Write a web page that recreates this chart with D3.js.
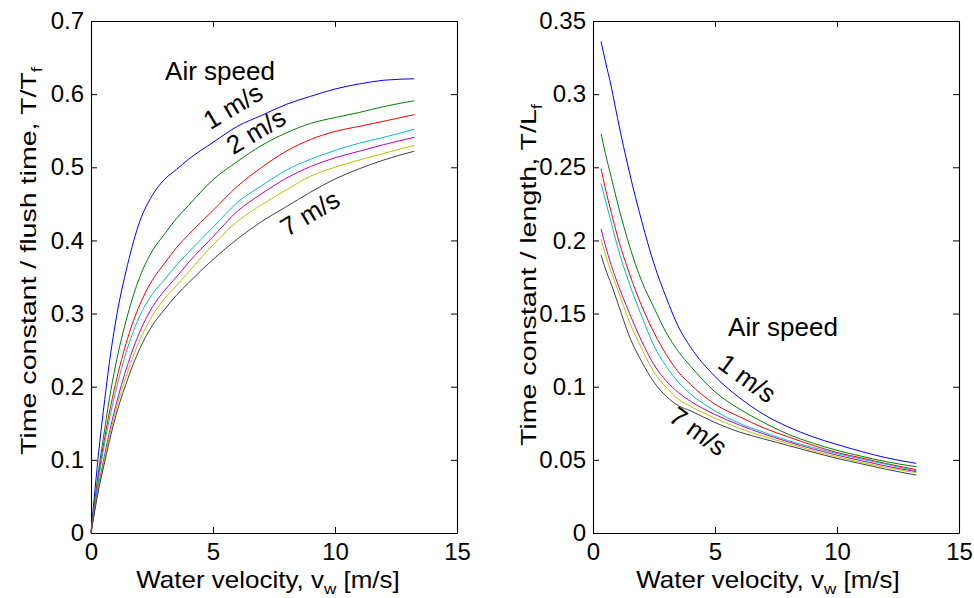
<!DOCTYPE html>
<html><head><meta charset="utf-8">
<script src="https://cdn.jsdelivr.net/npm/d3@7"></script>
<style>body{margin:0;background:#fff}svg{display:block}</style>
</head><body><svg id="c" width="974" height="598"></svg>
<script>
// ---------- data ----------
const airSpeeds = ["1 m/s","2 m/s","3 m/s","4 m/s","5 m/s","6 m/s","7 m/s"];
const lineColors = ["#0000ff","#008000","#ff0000","#00bfbf","#bf00bf","#bfbf00","#404040"];

const waterVelLeft  = [0, 0.33, 0.5, 0.75, 1, 1.5, 2, 2.5, 3, 3.5, 4, 5, 6, 7, 8, 9, 10, 11, 12, 13.25];
const waterVelRight = [0.33, 0.5, 0.75, 1, 1.5, 2, 2.5, 3, 3.5, 4, 5, 6, 7, 8, 9, 10, 11, 12, 13.25];

// T/Tf (left panel)
const ratioFlush1 = [0, 0.115, 0.165, 0.232, 0.287, 0.367, 0.426, 0.461, 0.483, 0.497, 0.511, 0.534, 0.556, 0.571, 0.586, 0.597, 0.607, 0.614, 0.619, 0.621];
const ratioFlush2 = [0, 0.090, 0.128, 0.183, 0.228, 0.298, 0.350, 0.385, 0.408, 0.430, 0.448, 0.483, 0.508, 0.530, 0.547, 0.560, 0.568, 0.575, 0.583, 0.591];
const ratioFlush3 = [0, 0.082, 0.118, 0.164, 0.203, 0.266, 0.312, 0.345, 0.368, 0.390, 0.408, 0.441, 0.474, 0.500, 0.522, 0.538, 0.549, 0.556, 0.563, 0.572];
const ratioFlush4 = [0, 0.078, 0.112, 0.155, 0.192, 0.253, 0.297, 0.326, 0.346, 0.366, 0.384, 0.418, 0.452, 0.475, 0.496, 0.511, 0.523, 0.533, 0.541, 0.552];
const ratioFlush5 = [0, 0.068, 0.097, 0.137, 0.172, 0.230, 0.275, 0.308, 0.331, 0.350, 0.370, 0.405, 0.440, 0.464, 0.485, 0.501, 0.513, 0.522, 0.531, 0.541];
const ratioFlush6 = [0, 0.065, 0.093, 0.131, 0.165, 0.220, 0.264, 0.296, 0.320, 0.338, 0.357, 0.394, 0.426, 0.449, 0.469, 0.488, 0.500, 0.510, 0.519, 0.530];
const ratioFlush7 = [0, 0.062, 0.088, 0.125, 0.158, 0.210, 0.252, 0.283, 0.305, 0.325, 0.342, 0.374, 0.402, 0.426, 0.446, 0.466, 0.484, 0.498, 0.510, 0.522];

// T/Lf (right panel)
const ratioLength1 = [0.336, 0.323, 0.305, 0.284, 0.246, 0.213, 0.184, 0.161, 0.141, 0.127, 0.107, 0.0925, 0.081, 0.0725, 0.0658, 0.0605, 0.0557, 0.0515, 0.0476];
const ratioLength2 = [0.273, 0.260, 0.243, 0.226, 0.196, 0.172, 0.154, 0.137, 0.124, 0.114, 0.0965, 0.0848, 0.0755, 0.0675, 0.0615, 0.0565, 0.0525, 0.0488, 0.0453];
const ratioLength3 = [0.249, 0.236, 0.219, 0.203, 0.177, 0.155, 0.137, 0.122, 0.110, 0.1015, 0.088, 0.0795, 0.0718, 0.0657, 0.0600, 0.0550, 0.0513, 0.0475, 0.0433];
const ratioLength4 = [0.239, 0.228, 0.212, 0.196, 0.170, 0.148, 0.128, 0.114, 0.103, 0.095, 0.0835, 0.075, 0.0688, 0.0632, 0.0585, 0.0543, 0.0505, 0.0470, 0.0425];
const ratioLength5 = [0.208, 0.197, 0.183, 0.171, 0.150, 0.131, 0.115, 0.104, 0.096, 0.090, 0.081, 0.0738, 0.0677, 0.0623, 0.0575, 0.0532, 0.0494, 0.0458, 0.0419];
const ratioLength6 = [0.201, 0.191, 0.178, 0.167, 0.144, 0.126, 0.110, 0.0995, 0.0915, 0.0865, 0.0785, 0.0715, 0.066, 0.0612, 0.0563, 0.0521, 0.0483, 0.0448, 0.0412];
const ratioLength7 = [0.190, 0.181, 0.170, 0.158, 0.134, 0.117, 0.103, 0.0935, 0.087, 0.0835, 0.0755, 0.069, 0.0643, 0.0598, 0.0553, 0.051, 0.0473, 0.0436, 0.0396];

const xTicks = [0, 5, 10, 15];
const yTicksLeft = [0, 0.1, 0.2, 0.3, 0.4, 0.5, 0.6, 0.7];
const yTickLabelsLeft = ["0","0.1","0.2","0.3","0.4","0.5","0.6","0.7"];
const yTicksRight = [0, 0.05, 0.1, 0.15, 0.2, 0.25, 0.3, 0.35];
const yTickLabelsRight = ["0","0.05","0.1","0.15","0.2","0.25","0.3","0.35"];

// ---------- drawing ----------
const FONT = "'Liberation Sans', Arial, Helvetica, sans-serif";
const svg = d3.select("#c");
svg.append("rect").attr("width",974).attr("height",598).attr("fill","#fff");

function panel(opts){
  const {left,right,top,bottom,yMax,yTicks,yLabels,xs,series} = opts;
  const x = d3.scaleLinear().domain([0,15]).range([left,right]);
  const y = d3.scaleLinear().domain([0,yMax]).range([bottom,top]);
  const g = svg.append("g");

  const styleAxis = sel => {
    sel.select(".domain").attr("stroke","#000").attr("stroke-width",1.1);
    sel.selectAll(".tick line").attr("stroke","#000").attr("stroke-width",1);
    sel.selectAll(".tick text").attr("fill","#000").attr("font-family",FONT).attr("font-size",opts.tickFont);
  };
  g.append("g").attr("transform",`translate(0,${bottom})`)
    .call(d3.axisBottom(x).tickValues(xTicks).tickFormat(d3.format("d")).tickSize(-6).tickSizeOuter(0).tickPadding(10))
    .call(styleAxis);
  g.append("g").attr("transform",`translate(0,${top})`)
    .call(d3.axisTop(x).tickValues(xTicks).tickFormat("").tickSize(-6).tickSizeOuter(0))
    .call(styleAxis);
  g.append("g").attr("transform",`translate(${left},0)`)
    .call(d3.axisLeft(y).tickValues(yTicks).tickFormat((d,i)=>yLabels[i]).tickSize(-6).tickSizeOuter(0).tickPadding(7))
    .call(styleAxis);
  g.append("g").attr("transform",`translate(${right},0)`)
    .call(d3.axisRight(y).tickValues(yTicks).tickFormat("").tickSize(-6).tickSizeOuter(0))
    .call(styleAxis);

  const line = d3.line().x(d=>x(d[0])).y(d=>y(d[1])).curve(d3.curveMonotoneX);
  series.forEach((vals,i)=>{
    g.append("path").datum(xs.map((v,j)=>[v,vals[j]]))
      .attr("d",line).attr("fill","none").attr("stroke",lineColors[i]).attr("stroke-width",1);
  });
  return {x,y,g};
}

panel({left:91,right:457,top:21,bottom:533,yMax:0.7,yTicks:yTicksLeft,yLabels:yTickLabelsLeft,
  xs:waterVelLeft,series:[ratioFlush1,ratioFlush2,ratioFlush3,ratioFlush4,ratioFlush5,ratioFlush6,ratioFlush7],tickFont:24});
panel({left:593,right:959,top:21,bottom:533,yMax:0.35,yTicks:yTicksRight,yLabels:yTickLabelsRight,
  xs:waterVelRight,series:[ratioLength1,ratioLength2,ratioLength3,ratioLength4,ratioLength5,ratioLength6,ratioLength7],tickFont:24});

function txt(x,y,str,rot,size){
  return svg.append("text").attr("transform",`translate(${x},${y}) rotate(${rot||0})`)
    .attr("font-family",FONT).attr("font-size",size||26).attr("text-anchor","middle")
    .attr("dominant-baseline","middle").attr("fill","#000").text(str);
}

// x labels (slightly condensed vertically like the reference)
[268, 768].forEach(cx=>{
  const t = svg.append("text").attr("transform",`translate(${cx},588) scale(1,0.9)`).attr("text-anchor","middle")
    .attr("font-family",FONT).attr("font-size",26).attr("fill","#000");
  t.append("tspan").text("Water velocity, v");
  t.append("tspan").attr("font-size",17).attr("dy",7).text("w");
  t.append("tspan").attr("dy",-7).text(" [m/s]");
});

// y labels (stretched along their length, narrow across)
function ylab(cx, cy, base, s){
  const t = svg.append("text").attr("transform",`translate(${cx},${cy}) rotate(-90) scale(1.1,0.85)`).attr("text-anchor","middle")
    .attr("font-family",FONT).attr("font-size",26).attr("fill","#000");
  t.append("tspan").text(base);
  t.append("tspan").attr("font-size",17).attr("dy",7).text(s);
}
ylab(36, 261, "Time constant / flush time, T/T", "f");
ylab(536, 275, "Time constant / length, T/L", "f");

// annotations
txt(220, 73, "Air speed", 0);
txt(234, 108, "1 m/s", -31);
txt(257, 133, "2 m/s", -31);
txt(311, 215, "7 m/s", -31);

txt(783, 329, "Air speed", 0);
txt(746, 380, "1 m/s", 36);
txt(697, 433, "7 m/s", 36);
</script></body></html>
